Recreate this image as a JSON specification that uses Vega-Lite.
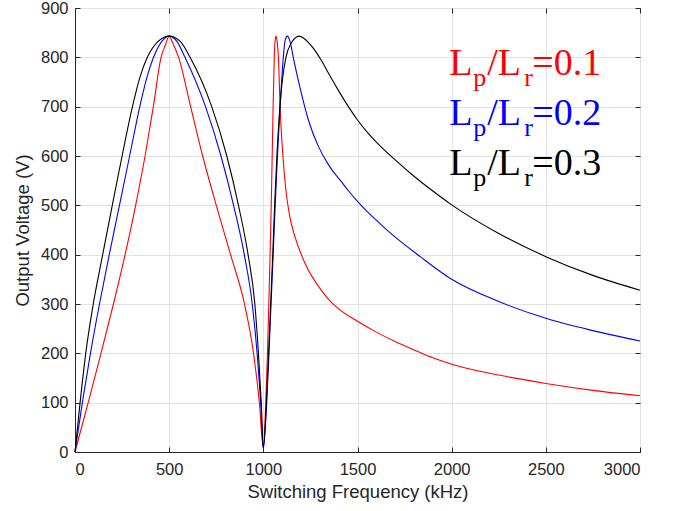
{
  "$schema": "https://vega.github.io/schema/vega-lite/v6.json",
  "width": 565,
  "height": 444,
  "autosize": "none",
  "padding": {"left": 75, "top": 8, "right": 34, "bottom": 59},
  "background": "white",
  "datasets": {
    "curves": [
      {"f":0,"v":0,"s":"0.1"},{"f":70,"v":100,"s":"0.1"},{"f":138,"v":200,"s":"0.1"},{"f":204,"v":300,"s":"0.1"},{"f":266,"v":400,"s":"0.1"},{"f":322,"v":500,"s":"0.1"},{"f":372,"v":600,"s":"0.1"},{"f":416,"v":700,"s":"0.1"},{"f":457,"v":800,"s":"0.1"},{"f":480,"v":825,"s":"0.1"},{"f":500,"v":843,"s":"0.1"},{"f":520,"v":828,"s":"0.1"},{"f":550,"v":800,"s":"0.1"},{"f":614,"v":700,"s":"0.1"},{"f":678,"v":600,"s":"0.1"},{"f":750,"v":500,"s":"0.1"},{"f":826,"v":400,"s":"0.1"},{"f":900,"v":300,"s":"0.1"},{"f":948,"v":200,"s":"0.1"},{"f":979,"v":100,"s":"0.1"},{"f":1000,"v":8,"s":"0.1"},{"f":1013,"v":100,"s":"0.1"},{"f":1022,"v":200,"s":"0.1"},{"f":1029,"v":300,"s":"0.1"},{"f":1036,"v":400,"s":"0.1"},{"f":1042,"v":500,"s":"0.1"},{"f":1047,"v":600,"s":"0.1"},{"f":1052,"v":700,"s":"0.1"},{"f":1058,"v":800,"s":"0.1"},{"f":1063,"v":835,"s":"0.1"},{"f":1068,"v":843,"s":"0.1"},{"f":1074,"v":830,"s":"0.1"},{"f":1080,"v":800,"s":"0.1"},{"f":1089,"v":700,"s":"0.1"},{"f":1104,"v":600,"s":"0.1"},{"f":1120,"v":530,"s":"0.1"},{"f":1140,"v":478,"s":"0.1"},{"f":1169,"v":435,"s":"0.1"},{"f":1222,"v":382,"s":"0.1"},{"f":1311,"v":326,"s":"0.1"},{"f":1350,"v":308,"s":"0.1"},{"f":1400,"v":290,"s":"0.1"},{"f":1500,"v":265,"s":"0.1"},{"f":1600,"v":243,"s":"0.1"},{"f":1700,"v":224,"s":"0.1"},{"f":1800,"v":207,"s":"0.1"},{"f":1900,"v":191,"s":"0.1"},{"f":2000,"v":178,"s":"0.1"},{"f":2250,"v":156,"s":"0.1"},{"f":2500,"v":139,"s":"0.1"},{"f":2750,"v":125,"s":"0.1"},{"f":3000,"v":114,"s":"0.1"},
      {"f":0,"v":0,"s":"0.2"},{"f":39,"v":100,"s":"0.2"},{"f":82,"v":200,"s":"0.2"},{"f":130,"v":300,"s":"0.2"},{"f":182,"v":400,"s":"0.2"},{"f":236,"v":500,"s":"0.2"},{"f":290,"v":600,"s":"0.2"},{"f":344,"v":700,"s":"0.2"},{"f":380,"v":757,"s":"0.2"},{"f":414,"v":797,"s":"0.2"},{"f":460,"v":832,"s":"0.2"},{"f":500,"v":843,"s":"0.2"},{"f":540,"v":833,"s":"0.2"},{"f":584,"v":800,"s":"0.2"},{"f":693,"v":700,"s":"0.2"},{"f":775,"v":600,"s":"0.2"},{"f":842,"v":500,"s":"0.2"},{"f":899,"v":400,"s":"0.2"},{"f":941,"v":300,"s":"0.2"},{"f":967,"v":200,"s":"0.2"},{"f":986,"v":100,"s":"0.2"},{"f":1000,"v":8,"s":"0.2"},{"f":1018,"v":100,"s":"0.2"},{"f":1030,"v":200,"s":"0.2"},{"f":1041,"v":300,"s":"0.2"},{"f":1052,"v":400,"s":"0.2"},{"f":1063,"v":500,"s":"0.2"},{"f":1075,"v":600,"s":"0.2"},{"f":1089,"v":700,"s":"0.2"},{"f":1106,"v":800,"s":"0.2"},{"f":1116,"v":835,"s":"0.2"},{"f":1128,"v":843,"s":"0.2"},{"f":1142,"v":832,"s":"0.2"},{"f":1160,"v":798,"s":"0.2"},{"f":1195,"v":738,"s":"0.2"},{"f":1240,"v":672,"s":"0.2"},{"f":1293,"v":619,"s":"0.2"},{"f":1340,"v":586,"s":"0.2"},{"f":1364,"v":572,"s":"0.2"},{"f":1408,"v":551,"s":"0.2"},{"f":1453,"v":529,"s":"0.2"},{"f":1500,"v":508,"s":"0.2"},{"f":1542,"v":491,"s":"0.2"},{"f":1600,"v":470,"s":"0.2"},{"f":1674,"v":444,"s":"0.2"},{"f":1833,"v":396,"s":"0.2"},{"f":2000,"v":350,"s":"0.2"},{"f":2250,"v":305,"s":"0.2"},{"f":2500,"v":271,"s":"0.2"},{"f":2750,"v":246,"s":"0.2"},{"f":3000,"v":225,"s":"0.2"},
      {"f":0,"v":0,"s":"0.3"},{"f":27,"v":100,"s":"0.3"},{"f":57,"v":200,"s":"0.3"},{"f":97,"v":300,"s":"0.3"},{"f":147,"v":400,"s":"0.3"},{"f":198,"v":500,"s":"0.3"},{"f":250,"v":600,"s":"0.3"},{"f":305,"v":700,"s":"0.3"},{"f":345,"v":760,"s":"0.3"},{"f":384,"v":800,"s":"0.3"},{"f":440,"v":832,"s":"0.3"},{"f":500,"v":843,"s":"0.3"},{"f":560,"v":832,"s":"0.3"},{"f":611,"v":800,"s":"0.3"},{"f":726,"v":700,"s":"0.3"},{"f":806,"v":600,"s":"0.3"},{"f":868,"v":500,"s":"0.3"},{"f":919,"v":400,"s":"0.3"},{"f":955,"v":300,"s":"0.3"},{"f":974,"v":200,"s":"0.3"},{"f":989,"v":100,"s":"0.3"},{"f":1000,"v":8,"s":"0.3"},{"f":1016,"v":100,"s":"0.3"},{"f":1028,"v":200,"s":"0.3"},{"f":1039,"v":300,"s":"0.3"},{"f":1050,"v":400,"s":"0.3"},{"f":1060,"v":500,"s":"0.3"},{"f":1072,"v":600,"s":"0.3"},{"f":1088,"v":700,"s":"0.3"},{"f":1100,"v":750,"s":"0.3"},{"f":1120,"v":800,"s":"0.3"},{"f":1150,"v":830,"s":"0.3"},{"f":1190,"v":843,"s":"0.3"},{"f":1240,"v":830,"s":"0.3"},{"f":1266,"v":818,"s":"0.3"},{"f":1311,"v":792,"s":"0.3"},{"f":1350,"v":765,"s":"0.3"},{"f":1400,"v":732,"s":"0.3"},{"f":1450,"v":701,"s":"0.3"},{"f":1500,"v":673,"s":"0.3"},{"f":1550,"v":649,"s":"0.3"},{"f":1600,"v":628,"s":"0.3"},{"f":1700,"v":592,"s":"0.3"},{"f":1800,"v":559,"s":"0.3"},{"f":1900,"v":529,"s":"0.3"},{"f":2000,"v":501,"s":"0.3"},{"f":2250,"v":443,"s":"0.3"},{"f":2500,"v":396,"s":"0.3"},{"f":2750,"v":358,"s":"0.3"},{"f":3000,"v":328,"s":"0.3"}
    ],
    "labels": [
      {"f":1987,"v":764,"s":"0.1","t":"L","part":"main"},
      {"f":2115,"v":742,"s":"0.1","t":"p","part":"sub"},
      {"f":2189,"v":764,"s":"0.1","t":"/L","part":"main"},
      {"f":2385,"v":742,"s":"0.1","t":"r","part":"sub"},
      {"f":2428,"v":764,"s":"0.1","t":"=0.1","part":"main"},
      {"f":1987,"v":663,"s":"0.2","t":"L","part":"main"},
      {"f":2115,"v":641,"s":"0.2","t":"p","part":"sub"},
      {"f":2189,"v":663,"s":"0.2","t":"/L","part":"main"},
      {"f":2385,"v":641,"s":"0.2","t":"r","part":"sub"},
      {"f":2428,"v":663,"s":"0.2","t":"=0.2","part":"main"},
      {"f":1987,"v":562,"s":"0.3","t":"L","part":"main"},
      {"f":2115,"v":540,"s":"0.3","t":"p","part":"sub"},
      {"f":2189,"v":562,"s":"0.3","t":"/L","part":"main"},
      {"f":2385,"v":540,"s":"0.3","t":"r","part":"sub"},
      {"f":2428,"v":562,"s":"0.3","t":"=0.3","part":"main"}
    ]
  },
  "layer": [
    {
      "data": {"name": "curves"},
      "mark": {"type": "line", "strokeWidth": 1.1, "interpolate": "monotone"},
      "encoding": {
        "x": {"field": "f", "type": "quantitative", "scale": {"domain": [0, 3000], "nice": false, "zero": false},
              "axis": {"orient": "bottom", "title": "Switching Frequency (kHz)", "format": "d", "values": [0,500,1000,1500,2000,2500,3000], "grid": true, "labelPadding": 14, "titlePadding": 5}},
        "y": {"field": "v", "type": "quantitative", "scale": {"domain": [0, 900], "nice": false},
              "axis": {"orient": "left", "title": "Output Voltage (V)", "format": "d", "values": [0,100,200,300,400,500,600,700,800,900], "grid": true, "labelPadding": 12, "titlePadding": 8}},
        "color": {"field": "s", "type": "nominal", "scale": {"domain": ["0.1","0.2","0.3"], "range": ["#ff0000","#0000ff","#000000"]}, "legend": null},
        "detail": {"field": "s"}
      }
    },
    {
      "data": {"name": "labels"},
      "transform": [{"filter": "datum.part === 'main'"}],
      "mark": {"type": "text", "font": "Liberation Serif", "fontSize": 38, "align": "left", "baseline": "alphabetic"},
      "encoding": {
        "x": {"field": "f", "type": "quantitative", "axis": {"orient": "top", "labels": false, "title": null, "grid": false, "values": [0,500,1000,1500,2000,2500,3000], "domain": false}},
        "y": {"field": "v", "type": "quantitative", "axis": {"orient": "right", "labels": false, "title": null, "grid": false, "values": [0,100,200,300,400,500,600,700,800,900], "domain": false}},
        "text": {"field": "t"},
        "color": {"field": "s", "type": "nominal", "legend": null}
      }
    },
    {
      "data": {"name": "labels"},
      "transform": [{"filter": "datum.part === 'sub'"}],
      "mark": {"type": "text", "font": "Liberation Serif", "fontSize": 26, "align": "left", "baseline": "alphabetic"},
      "encoding": {
        "x": {"field": "f", "type": "quantitative", "axis": null},
        "y": {"field": "v", "type": "quantitative", "axis": null},
        "text": {"field": "t"},
        "color": {"field": "s", "type": "nominal", "legend": null}
      }
    }
  ],
  "resolve": {"axis": {"x": "independent", "y": "independent"}},
  "config": {
    "view": {"stroke": "#262626", "strokeWidth": 1},
    "axis": {
      "domainColor": "#262626", "tickColor": "#262626", "labelColor": "#262626", "titleColor": "#262626",
      "labelFont": "Liberation Sans", "titleFont": "Liberation Sans", "labelFontSize": 16.5, "titleFontSize": 18.5,
      "titleFontWeight": "normal", "gridColor": "#e2e2e2", "gridWidth": 1, "domainWidth": 1, "tickSize": -5, "tickWidth": 1
    }
  }
}
